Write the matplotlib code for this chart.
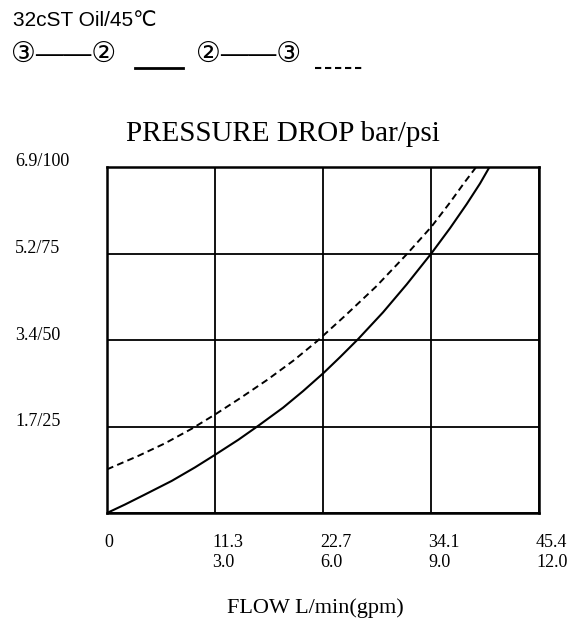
import matplotlib
matplotlib.use('Agg')
import matplotlib.pyplot as plt
from matplotlib.transforms import ScaledTranslation
from matplotlib.lines import Line2D

# curves, flow in L/min and pressure drop in bar
FLOW_32 = [0, 1.9, 4.0, 6.8, 9.25, 11.35, 13.8, 15.9, 18.5, 20.6, 22.8,
           24.5, 26.4, 29.0, 31.5, 34.1, 36.05, 37.8, 39.2, 40.2]
DROP_32 = [0, 0.17, 0.37, 0.64, 0.91, 1.16, 1.46, 1.74, 2.10, 2.43, 2.80,
           3.11, 3.47, 4.00, 4.56, 5.18, 5.68, 6.16, 6.57, 6.9]
FLOW_23 = [0, 3.3, 6.1, 8.9, 11.4, 14.0, 16.8, 19.6, 22.1, 25.0, 28.3,
           31.5, 34.1, 36.0, 37.6, 38.8]
DROP_23 = [0.87, 1.14, 1.39, 1.68, 1.97, 2.29, 2.65, 3.04, 3.43, 3.93, 4.52,
           5.16, 5.71, 6.18, 6.60, 6.9]

X_TICKS = [0, 11.35, 22.7, 34.05, 45.4]
X_LABELS = ["0", "11.3\n3.0", "22.7\n6.0", "34.1\n9.0", "45.4\n12.0"]
Y_TICKS = [0, 1.725, 3.45, 5.175, 6.9]
Y_LABELS = ["", "1.7/25", "3.4/50", "5.2/75", "6.9/100"]

SERIF = "Liberation Serif"
W, H = 577, 618

fig = plt.figure(figsize=(W / 100, H / 100), dpi=100)
ax = fig.add_axes([107 / W, 1 - 513 / H, 432 / W, 346 / H])

ax.plot(FLOW_32, DROP_32, color="black", lw=1.5)
ax.plot(FLOW_23, DROP_23, color="black", lw=1.4, dashes=(3.5, 2.2))

ax.set_xlim(X_TICKS[0], X_TICKS[-1])
ax.set_ylim(Y_TICKS[0], Y_TICKS[-1])
ax.grid(True, color="black", lw=1.3)
for s in ax.spines.values():
    s.set_linewidth(1.8)

ax.set_xticks(X_TICKS)
ax.set_xticklabels(X_LABELS, fontfamily=SERIF, fontsize=13, ha="left",
                   multialignment="left", linespacing=1.28)
ax.set_yticks(Y_TICKS)
ax.set_yticklabels(Y_LABELS, fontfamily=SERIF, fontsize=13, ha="left")
ax.tick_params(length=0)
ax.tick_params(axis="x", pad=15)
ax.tick_params(axis="y", pad=66)

# labels sit a bit left of / above their grid lines
for lab in ax.get_xticklabels():
    lab.set_transform(lab.get_transform() + ScaledTranslation(-3 / 100, 0, fig.dpi_scale_trans))
for lab in ax.get_yticklabels():
    lab.set_transform(lab.get_transform() + ScaledTranslation(0, 7 / 100, fig.dpi_scale_trans))

fig.text(283 / W, 1 - 134 / H, "PRESSURE DROP bar/psi", fontfamily=SERIF,
         fontsize=21, ha="center", va="center")
fig.text(315 / W, 1 - 608 / H, "FLOW L/min(gpm)", fontfamily=SERIF,
         fontsize=16, ha="center", va="center")

# legend at top left
sans = ["Liberation Sans", "DejaVu Sans"]
fig.text(13 / W, 1 - 21 / H, "32cST Oil/45℃", fontfamily=sans, fontsize=15,
         ha="left", va="center")
fig.text(11 / W, 1 - 55 / H, "③——②", fontfamily=sans, fontsize=20,
         ha="left", va="center")
fig.text(196 / W, 1 - 55 / H, "②——③", fontfamily=sans, fontsize=20,
         ha="left", va="center")
fig.add_artist(Line2D([135 / W, 183 / W], [1 - 68 / H, 1 - 68 / H],
                      color="black", lw=2))
fig.add_artist(Line2D([315 / W, 363 / W], [1 - 68 / H, 1 - 68 / H],
                      color="black", lw=1.5, dashes=(3, 1.8)))

fig.savefig("out.png", dpi=100)
